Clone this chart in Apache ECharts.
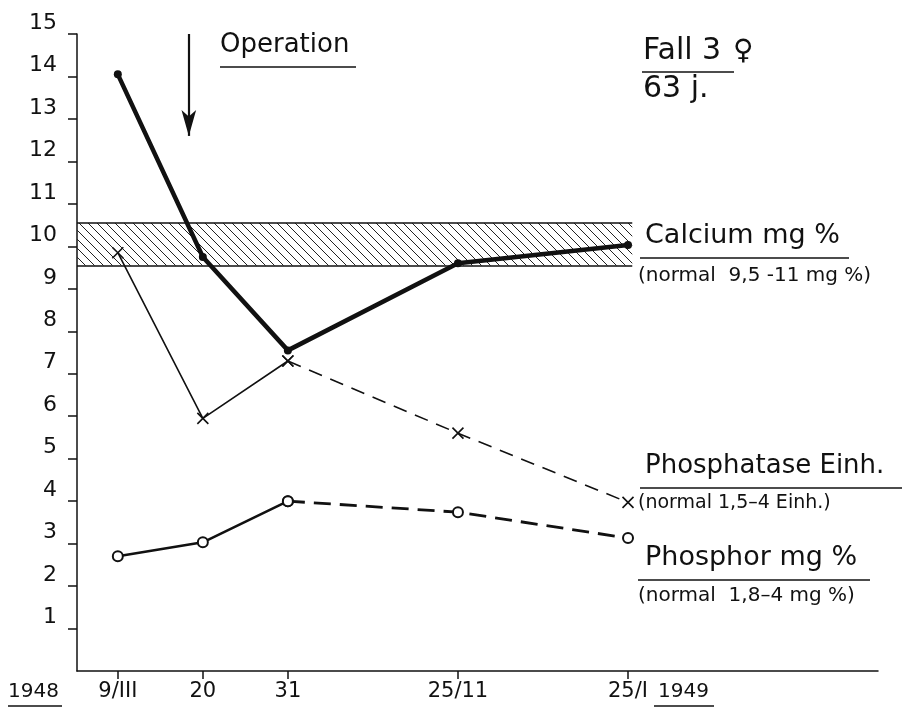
<!DOCTYPE html>
<html>
<head>
<meta charset="utf-8">
<script src="https://cdn.jsdelivr.net/npm/echarts@6/dist/echarts.min.js"></script>
<style>
  html, body { margin: 0; padding: 0; background: #fff; }
  #main { width: 904px; height: 722px; }
</style>
</head>
<body>
<div id="main"></div>
<script>
var chart = echarts.init(document.getElementById('main'));

// x positions of the sampling dates (axis is not to scale in time)
var xPos = [0, 1, 2, 4, 6];
var dateLabels = ['9/III', '20', '31', '25/11', '25/I'];
var calcium = [14.05, 9.75, 7.55, 9.6, 10.03];
var phosphatase = [9.85, 5.95, 7.3, 5.6, 3.97];
var phosphor = [2.7, 3.03, 4.0, 3.74, 3.13];
var yTicks = [1, 2, 3, 4, 5, 6, 7, 8, 9, 10, 11, 12, 13, 14, 15];
var calciumNormal = [9.55, 10.55];
var solidEnd = 2; // after the 31st the lines are dashed

var font = "'DejaVu Sans', sans-serif";
var ink = '#111';

function pts(vals, from, to) {
    var out = [];
    for (var i = from; i <= to; i++) out.push([xPos[i], vals[i]]);
    return out;
}

// hatch pattern for the normal calcium band
var hatch = document.createElement('canvas');
hatch.width = 9; hatch.height = 9;
var hc = hatch.getContext('2d');
hc.strokeStyle = '#222';
hc.lineWidth = 1;
hc.beginPath();
hc.moveTo(-1, -1); hc.lineTo(10, 10);
hc.moveTo(-10, -1); hc.lineTo(1, 10);
hc.moveTo(8, -1); hc.lineTo(19, 10);
hc.stroke();

var crossSym = 'path://M0,0L10,10M10,0L0,10';

var option = {
    backgroundColor: '#fff',
    animation: false,
    grid: { left: 77, right: 26, top: 34, bottom: 51 },
    xAxis: {
        type: 'value',
        min: -0.48,
        max: 8.94,
        splitLine: { show: false },
        axisLine: { onZero: false, lineStyle: { color: ink, width: 1.5 } },
        axisTick: { customValues: xPos, length: 8, lineStyle: { color: ink, width: 1.5 } },
        axisLabel: {
            customValues: xPos,
            margin: 10,
            color: ink,
            fontFamily: font,
            fontSize: 21,
            formatter: function (v) {
                var i = xPos.indexOf(v);
                return i >= 0 ? dateLabels[i] : '';
            }
        }
    },
    yAxis: {
        type: 'value',
        min: 0,
        max: 15,
        interval: 1,
        splitLine: { show: false },
        axisLine: { show: true, onZero: false, lineStyle: { color: ink, width: 1.5 } },
        axisTick: { customValues: yTicks, length: 9, lineStyle: { color: ink, width: 1.5 } },
        axisLabel: {
            customValues: yTicks,
            margin: 20,
            color: ink,
            fontFamily: font,
            fontSize: 22,
            verticalAlign: 'bottom'
        }
    },
    series: [
        {
            name: 'Calcium',
            type: 'line',
            data: pts(calcium, 0, calcium.length - 1),
            symbol: 'circle',
            symbolSize: 8,
            itemStyle: { color: ink },
            lineStyle: { color: ink, width: 4.5 },
            z: 5,
            markArea: {
                silent: true,
                itemStyle: { color: { image: hatch, repeat: 'repeat' } },
                data: [[{ coord: [-0.48, calciumNormal[0]] }, { coord: [6.05, calciumNormal[1]] }]]
            },
            markLine: {
                silent: true,
                symbol: 'none',
                label: { show: false },
                lineStyle: { color: ink, width: 1.5, type: 'solid' },
                data: [
                    [{ coord: [-0.48, calciumNormal[0]] }, { coord: [6.05, calciumNormal[0]] }],
                    [{ coord: [-0.48, calciumNormal[1]] }, { coord: [6.05, calciumNormal[1]] }]
                ]
            }
        },
        {
            name: 'Phosphatase',
            type: 'line',
            data: pts(phosphatase, 0, solidEnd),
            symbol: crossSym,
            symbolSize: 11,
            itemStyle: { color: 'none', borderColor: ink, borderWidth: 1.6 },
            lineStyle: { color: ink, width: 1.6 },
            z: 4
        },
        {
            name: 'Phosphatase dashed',
            type: 'line',
            data: pts(phosphatase, solidEnd, phosphatase.length - 1),
            symbol: crossSym,
            symbolSize: 11,
            itemStyle: { color: 'none', borderColor: ink, borderWidth: 1.6 },
            lineStyle: { color: ink, width: 1.6, type: [14, 9] },
            z: 4
        },
        {
            name: 'Phosphor',
            type: 'line',
            data: pts(phosphor, 0, solidEnd),
            symbol: 'emptyCircle',
            symbolSize: 10,
            itemStyle: { color: ink, borderWidth: 2 },
            lineStyle: { color: ink, width: 2.6 },
            z: 4,
            markLine: {
                silent: true,
                symbol: ['none', 'arrow'],
                symbolSize: [11, 26],
                label: { show: false },
                lineStyle: { color: ink, width: 2.2, type: 'solid' },
                data: [[{ coord: [0.835, 15] }, { coord: [0.835, 12.6] }]]
            }
        },
        {
            name: 'Phosphor dashed',
            type: 'line',
            data: pts(phosphor, solidEnd, phosphor.length - 1),
            symbol: 'emptyCircle',
            symbolSize: 10,
            itemStyle: { color: ink, borderWidth: 2 },
            lineStyle: { color: ink, width: 2.8, type: [17, 9] },
            z: 4
        }
    ],
    graphic: [
        { type: 'text', left: 220, top: 32, style: { text: 'Operation', font: '26px ' + font, fill: ink } },
        { type: 'line', shape: { x1: 220, y1: 67, x2: 356, y2: 67 }, style: { stroke: ink, lineWidth: 1.5 } },

        { type: 'text', left: 643, top: 36, style: { text: 'Fall 3', font: '30px ' + font, fill: ink } },
        { type: 'text', left: 733, top: 38, style: { text: '\u2640', font: '28px ' + font, fill: ink } },
        { type: 'line', shape: { x1: 642, y1: 72, x2: 734, y2: 72 }, style: { stroke: ink, lineWidth: 1.5 } },
        { type: 'text', left: 643, top: 74, style: { text: '63 j.', font: '30px ' + font, fill: ink } },

        { type: 'text', left: 645, top: 222, style: { text: 'Calcium mg %', font: '27px ' + font, fill: ink } },
        { type: 'line', shape: { x1: 640, y1: 258, x2: 849, y2: 258 }, style: { stroke: ink, lineWidth: 1.5 } },
        { type: 'text', left: 638, top: 266, style: { text: '(normal  9,5 -11 mg %)', font: '20px ' + font, fill: ink } },

        { type: 'text', left: 645, top: 453, style: { text: 'Phosphatase Einh.', font: '26px ' + font, fill: ink } },
        { type: 'line', shape: { x1: 640, y1: 488, x2: 902, y2: 488 }, style: { stroke: ink, lineWidth: 1.5 } },
        { type: 'text', left: 638, top: 494, style: { text: '(normal 1,5\u20134 Einh.)', font: '19px ' + font, fill: ink } },

        { type: 'text', left: 645, top: 544, style: { text: 'Phosphor mg %', font: '27px ' + font, fill: ink } },
        { type: 'line', shape: { x1: 638, y1: 580, x2: 870, y2: 580 }, style: { stroke: ink, lineWidth: 1.5 } },
        { type: 'text', left: 638, top: 586, style: { text: '(normal  1,8\u20134 mg %)', font: '20px ' + font, fill: ink } },

        { type: 'text', left: 8, top: 682, style: { text: '1948', font: '20px ' + font, fill: ink } },
        { type: 'line', shape: { x1: 8, y1: 706, x2: 62, y2: 706 }, style: { stroke: ink, lineWidth: 1.5 } },
        { type: 'text', left: 658, top: 682, style: { text: '1949', font: '20px ' + font, fill: ink } },
        { type: 'line', shape: { x1: 654, y1: 706, x2: 714, y2: 706 }, style: { stroke: ink, lineWidth: 1.5 } }
    ]
};

chart.setOption(option);
</script>
</body>
</html>
